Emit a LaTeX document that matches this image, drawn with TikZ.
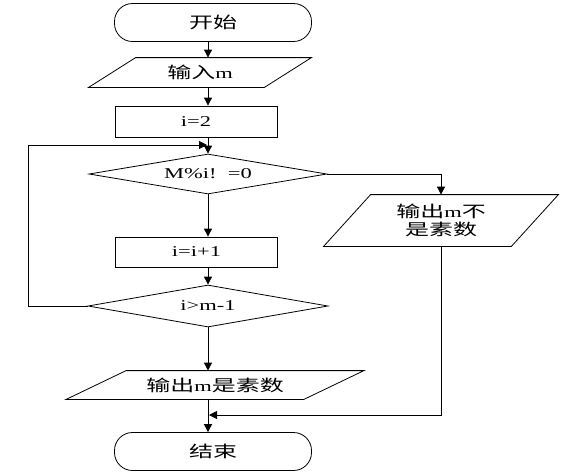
\documentclass[tikz,border=0pt]{standalone}
\usepackage{fontspec}
\setmainfont{Liberation Serif}[FakeStretch=1.5]
\newfontfamily\cjk{Noto Sans CJK SC}[FakeStretch=1.5]
\newcommand{\zh}[1]{{\cjk\fontsize{16pt}{19pt}\selectfont #1}}
\usetikzlibrary{shapes.geometric,arrows.meta}

\tikzset{
  term/.style={draw,rectangle,rounded corners=18pt,minimum width=197pt,minimum height=38pt,inner sep=0pt},
  proc/.style={draw,rectangle,minimum width=162pt,minimum height=31pt,inner sep=0pt},
  dec/.style={draw,diamond,aspect=6,inner sep=0pt},
  io/.style={rectangle,inner sep=0pt,align=center},
  flow/.style={-{Triangle[length=8pt,width=8pt]}}
}

\begin{document}
\begin{tikzpicture}[x=1pt,y=-1pt,line width=0.8pt,font=\fontsize{15pt}{18pt}\selectfont]
  \useasboundingbox (0,0) rectangle (570,475);

  % Main column
  \coordinate (axis) at (208,0);
  \node[term] (start) at (213,22.5) {\zh{开始}};
  \node[io,minimum width=175pt,minimum height=29pt] (input) at (200,72.5) {\zh{输入}m};
  \node[proc] (init) at (196,121.5) {i=2};
  \node[dec,minimum width=238pt,minimum height=40pt] (test) at (208,174) {M\%i!\ \ =0};
  \node[proc,minimum height=30pt] (incr) at (196.5,252) {i=i+1};
  \node[dec,minimum width=240pt,minimum height=42pt] (bound) at (208,306) {i>m-1};
  \node[io,minimum width=237pt,minimum height=28pt] (prime) at (215,385) {\zh{输出}m\zh{是素数}};
  \node[term] (stop) at (213,451.5) {\zh{结束}};

  % Branch on the right
  \node[io,minimum width=187pt,minimum height=51pt] (notprime) at (441,220.5)
        {\zh{输出}m\zh{不}\\\zh{是素数}};

  % Parallelogram outlines
  \foreach \n/\s in {input/23.5,prime/30,notprime/23.5}
    \draw ([xshift=-\s pt]\n.south west) -- ([xshift=\s pt]\n.north west)
      -- ([xshift=\s pt]\n.north east) -- ([xshift=-\s pt]\n.south east) -- cycle;

  % Junction points
  \coordinate (loop) at (28,145);
  \coordinate (back) at (207,145);
  \coordinate (merge) at (209,415);

  % Connections
  \draw[flow] (start.south -| axis) -- (input.north -| axis);
  \draw[flow] (input.south -| axis) -- (init.north -| axis);
  \draw[flow] (init.south -| axis) -- (test.north -| axis);
  \draw[flow] (test.south -| axis) -- (incr.north -| axis);
  \draw[flow] (incr.south -| axis) -- (bound.north -| axis);
  \draw[flow] (bound.south -| axis) -- (prime.north -| axis);
  \draw[flow] (prime.south -| axis) -- (stop.north -| axis);

  % Loop back
  \draw[flow] (bound.west) -- (bound.west -| loop) -- (loop) -- (back);

  % Not prime
  \draw[flow] (test.east) -| (notprime.north);
  \draw[flow] (notprime.south) |- (merge);
\end{tikzpicture}
\end{document}
